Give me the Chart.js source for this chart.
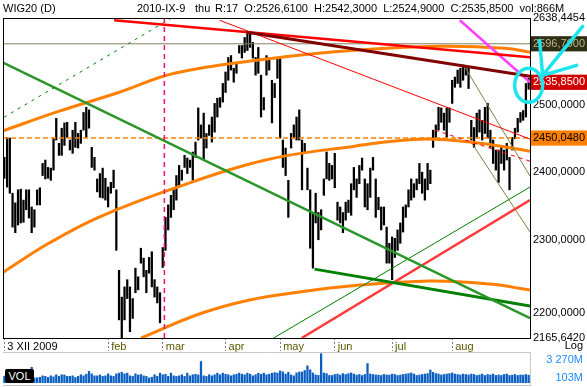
<!DOCTYPE html>
<html>
<head>
<meta charset="utf-8">
<script src="https://cdn.jsdelivr.net/npm/chart.js@4/dist/chart.umd.min.js"></script>
<style>
  body { margin: 0; background: #fff; width: 587px; height: 387px; overflow: hidden; position: relative;
         font-family: "Liberation Sans", Arial, sans-serif; font-size: 11px; color: #000; }
  canvas { position: absolute; left: 0; }
  #main { top: 0; }
  #vol { top: 352px; }
  .t { position: absolute; white-space: pre; line-height: 13px; }
  #volbox { position: absolute; left: 5px; top: 369px; width: 29px; height: 14px; background: #000; color: #fff;
            border-radius: 2px; text-align: center; line-height: 14px; }
</style>
</head>
<body>
<canvas id="main" width="587" height="352"></canvas>
<canvas id="vol" width="587" height="35"></canvas>
<div class="t" style="left:3px;top:2px">WIG20 (D)</div>
<div class="t" style="left:137px;top:2px">2010-IX-9</div>
<div class="t" style="left:195px;top:2px">thu</div>
<div class="t" style="left:215px;top:2px">R:17  O:2526,6100  H:2542,3000  L:2524,9000  C:2535,8500  vol:866M</div>
<div class="t" style="right:4px;top:339px">Log</div>
<div id="volbox">VOL</div>
<script>
// month ticks (index of first session of the month) and their labels
const monthTicks = [0, 38, 58, 81, 101, 121, 142, 164];
const monthLabels = ['3 XII 2009', 'feb', 'mar', 'apr', 'may', 'jun', 'jul', 'aug'];
const priceTicks = [2638.4454, 2596.79, 2535.85, 2500, 2450.048, 2400, 2300, 2200, 2165.642];
const volTickLabels = ['3 270M', '103M'];

// daily high / low, 3 XII 2009 .. 9 IX 2010
const priceHigh = [
  2421, 2451, 2450, 2368, 2354, 2373, 2374, 2358, 2373, 2373,
  2348, 2344, 2373, 2376, 2412, 2417, 2406, 2405, 2450, 2480,
  2442, 2465, 2473, 2474, 2447, 2462, 2474, 2457, 2462, 2489,
  2497, 2493, 2436, 2421, 2389, 2397, 2405, 2390, 2377, 2384,
  2402, 2373, 2258, 2221, 2235, 2245, 2235, 2219, 2261, 2249,
  2289, 2275, 2258, 2276, 2284, 2245, 2235, 2227, 2290, 2333,
  2351, 2365, 2373, 2394, 2409, 2402, 2424, 2420, 2417, 2429,
  2444, 2496, 2470, 2488, 2457, 2470, 2482, 2503, 2511, 2512,
  2534, 2552, 2575, 2578, 2558, 2566, 2594, 2594, 2607, 2613,
  2615, 2599, 2575, 2591, 2547, 2512, 2578, 2574, 2539, 2534,
  2574, 2574, 2447, 2435, 2387, 2457, 2470, 2482, 2493, 2447,
  2442, 2405, 2373, 2339, 2368, 2340, 2344, 2389, 2429, 2412,
  2409, 2427, 2355, 2348, 2340, 2355, 2358, 2382, 2406, 2389,
  2409, 2420, 2389, 2382, 2405, 2421, 2389, 2362, 2348, 2348,
  2319, 2296, 2305, 2303, 2315, 2325, 2348, 2351, 2373, 2389,
  2382, 2389, 2412, 2399, 2389, 2412, 2402, 2462, 2470, 2497,
  2496, 2488, 2496, 2496, 2539, 2544, 2555, 2558, 2563, 2560,
  2558, 2477, 2466, 2488, 2493, 2477, 2497, 2503, 2462, 2447,
  2432, 2432, 2436, 2432, 2442, 2421, 2451, 2465, 2480, 2489,
  2492, 2534, 2542.3
];
const priceLow = [
  2390, 2377, 2368, 2319, 2311, 2322, 2325, 2326, 2344, 2332,
  2311, 2319, 2351, 2351, 2394, 2389, 2390, 2387, 2402, 2447,
  2424, 2424, 2439, 2451, 2432, 2427, 2436, 2435, 2442, 2462,
  2451, 2465, 2406, 2402, 2370, 2362, 2361, 2358, 2348, 2368,
  2376, 2286, 2190, 2165.642, 2190, 2219, 2174, 2192, 2227, 2231,
  2268, 2249, 2227, 2254, 2235, 2221, 2213, 2186, 2262, 2286,
  2315, 2333, 2344, 2358, 2380, 2387, 2406, 2397, 2406, 2387,
  2421, 2447, 2450, 2417, 2435, 2454, 2444, 2459, 2482, 2497,
  2505, 2520, 2539, 2555, 2536, 2550, 2582, 2574, 2583, 2586,
  2591, 2574, 2547, 2550, 2482, 2493, 2547, 2555, 2473, 2512,
  2542, 2450, 2406, 2394, 2333, 2435, 2450, 2447, 2447, 2373,
  2427, 2373, 2289, 2261, 2325, 2301, 2315, 2365, 2389, 2387,
  2389, 2376, 2329, 2325, 2311, 2329, 2340, 2336, 2373, 2362,
  2382, 2402, 2348, 2344, 2362, 2402, 2333, 2344, 2315, 2322,
  2268, 2268, 2245, 2276, 2286, 2296, 2312, 2333, 2348, 2358,
  2362, 2373, 2382, 2368, 2358, 2373, 2382, 2436, 2450, 2462,
  2474, 2462, 2451, 2474, 2503, 2528, 2534, 2528, 2539, 2547,
  2526, 2447, 2436, 2451, 2459, 2447, 2457, 2450, 2436, 2412,
  2402, 2384, 2412, 2402, 2417, 2373, 2432, 2449, 2459, 2474,
  2477, 2482, 2524.9
];
// volume, millions
const volume = [
  760, 700, 850, 800, 650, 750, 700, 650, 600, 680,
  1750, 560, 580, 640, 800, 740, 620, 800, 690, 920,
  740, 920, 900, 740, 740, 800, 620, 740, 920, 800,
  980, 1300, 1020, 800, 800, 900, 740, 800, 1020, 800,
  740, 1020, 1100, 1200, 1020, 1100, 800, 740, 1020, 900,
  950, 800, 740, 560, 640, 920, 740, 1100, 920, 980,
  740, 1100, 800, 740, 800, 920, 740, 1100, 800, 920,
  980, 900, 2400, 800, 740, 920, 800, 920, 1100, 920,
  1100, 980, 920, 800, 920, 980, 1100, 980, 920, 1100,
  980, 800, 920, 1100, 980, 1100, 920, 980, 1100, 1160,
  1100, 1350, 1250, 1000, 1200, 900, 800, 1120, 1230, 1230,
  1400, 1920, 1470, 1120, 900, 850, 3270, 1120, 1050, 840,
  840, 950, 1000, 880, 1050, 950, 1050, 1120, 1000, 880,
  950, 840, 950, 2170, 1000, 950, 900, 880, 840, 950,
  900, 880, 1000, 950, 840, 880, 950, 1000, 1050, 1120,
  1000, 840, 900, 950, 1000, 1050, 1450, 1200, 1050, 1000,
  900, 950, 1000, 1050, 1120, 1000, 950, 900, 1000, 950,
  900, 1000, 950, 840, 900, 1000, 840, 950, 900, 1000,
  840, 900, 840, 950, 1000, 840, 880, 950, 840, 900,
  880, 950, 866
];

// drawn studies: [session index, price]
const redTopLine   = [[40.2, 2634.8], [192.5, 2575.3]];
const maroonLine   = [[88.7, 2615.4], [192.5, 2545.3]];
const redThinLine  = [[78.8, 2634.8], [192.5, 2448.4]];
const redDashLine  = [[157.7, 2462.0], [192.5, 2415.3]];
const magentaLine  = [[166.8, 2634.8], [192.5, 2535.9]];
const pinkVLine    = [[58.6, 2165.642], [58.6, 2638.4454]];
const greenDashLine = [[-0.13, 2481.7], [61.1, 2638.0]];
const greenFallLine = [[-0.87, 2567.4], [192.5, 2192.5]];
const greenFlatLine = [[113.6, 2259.7], [192.5, 2208.8]];
const greenRiseLine = [[98.6, 2165.642], [192.5, 2377.0]];
const redRiseLine   = [[108.9, 2165.642], [192.5, 2358.0]];
const oliveLineA    = [[168.7, 2559.5], [192.5, 2393.1]];
const oliveLineB    = [[171.2, 2442.3], [192.5, 2312.0]];
const oliveLevel    = [[-0.5, 2596.79], [192.5, 2596.79]];
const orangeLevel   = [[-0.5, 2450.048], [192.5, 2450.048]];
const orangeArcTop = [[-0.87, 2460.4], [20.1, 2491], [42.1, 2520.3], [62.3, 2550.0], [95.3, 2572.1],
                      [128.3, 2586.4], [159.5, 2592.8], [183.4, 2589.6], [192.5, 2583.2]];
const orangeArcMid = [[-0.87, 2254.2], [16.4, 2296.3], [34.7, 2333.4], [62.3, 2375.5], [95.3, 2416.8],
                      [128.3, 2437.8], [152.2, 2448.4], [174.2, 2442.3], [192.5, 2430.3]];
const orangeArcLow = [[50.1, 2165.642], [71.4, 2197.9], [89.8, 2217.0], [108.1, 2227.9], [126.5, 2236.2],
                      [155.8, 2243.1], [177.8, 2238.9], [192.5, 2230.7]];
const cyanMark = [192, 2531];

const fnt = { family: 'Liberation Sans', size: 11 };
const tickText = ['#000', '#b8b890', '#fff', '#000', '#000', '#000', '#000', '#000', '#000'];
const tickBack = ['rgba(0,0,0,0)', '#2e2e14', '#d00000', 'rgba(0,0,0,0)', '#ff8000',
                  'rgba(0,0,0,0)', 'rgba(0,0,0,0)', 'rgba(0,0,0,0)', 'rgba(0,0,0,0)'];

function study(points, color, width, dash, tension) {
  return {
    type: 'line',
    data: points.map(p => ({ x: p[0], y: p[1] })),
    borderColor: color,
    borderWidth: width,
    borderDash: dash || [],
    pointRadius: 0,
    tension: tension || 0,
    fill: false,
    order: 1
  };
}

const frame = {
  id: 'frame',
  afterDatasetsDraw(chart) {
    const { ctx, chartArea: a } = chart;
    ctx.save();
    ctx.strokeStyle = '#000';
    ctx.lineWidth = 1;
    ctx.strokeRect(a.left + 0.5, a.top + 0.5, a.right - a.left, a.bottom - a.top);
    // cyan freehand marks round the last session
    const cx = chart.scales.x.getPixelForValue(cyanMark[0]);
    const cy = chart.scales.y.getPixelForValue(cyanMark[1]);
    ctx.strokeStyle = '#1de4ee';
    ctx.lineWidth = 3.5;
    ctx.lineCap = 'round';
    ctx.beginPath();
    ctx.ellipse(cx, cy, 14, 17, 0, 0, Math.PI * 2);
    ctx.stroke();
    ctx.beginPath();
    ctx.moveTo(cx + 54, cy - 59);
    ctx.lineTo(cx + 14, cy - 10);
    ctx.lineTo(cx + 11, cy - 45);
    ctx.moveTo(cx + 14, cy - 10);
    ctx.lineTo(cx + 48, cy - 20);
    ctx.stroke();
    ctx.restore();
  }
};

new Chart(document.getElementById('main'), {
  type: 'bar',
  data: {
    datasets: [
      study(maroonLine, '#800000', 3),
      study(redTopLine, '#ff0000', 2.5),
      study(redThinLine, '#ff0000', 1),
      study(redDashLine, '#ff0000', 1, [4, 4]),
      study(magentaLine, '#ff40ff', 2.5),
      study(pinkVLine, '#ff0a7a', 1.5, [5, 4]),
      study(greenDashLine, '#008000', 1, [3, 5]),
      study(greenFallLine, '#2a962a', 2.5),
      study(greenFlatLine, '#008000', 3),
      study(greenRiseLine, '#008000', 1),
      study(redRiseLine, '#ff3a3a', 2.5),
      study(oliveLineA, '#808040', 1),
      study(oliveLineB, '#808040', 1),
      study(oliveLevel, '#808060', 1),
      study(orangeLevel, '#ff8000', 1.5, [5, 3]),
      study(orangeArcTop, '#ff8000', 3, [], 0.4),
      study(orangeArcMid, '#ff8000', 3, [], 0.4),
      study(orangeArcLow, '#ff8000', 3, [], 0.4),
      {
        type: 'bar',
        data: priceHigh.map((h, i) => ({ x: i, y: [priceLow[i], h] })),
        backgroundColor: '#000',
        barThickness: 1.6,
        grouped: false,
        order: 20
      }
    ]
  },
  options: {
    responsive: false,
    animation: false,
    events: [],
    layout: { padding: { top: 18, left: 3, right: 0, bottom: 0 } },
    plugins: { legend: { display: false }, tooltip: { enabled: false }, title: { display: false } },
    scales: {
      x: {
        type: 'linear', min: -0.5, max: 192.5, offset: false, bounds: 'data',
        afterBuildTicks: s => { s.ticks = monthTicks.map(v => ({ value: v })); },
        afterFit: s => { s.height = 14; },
        grid: { drawOnChartArea: false, drawTicks: true, tickLength: 13, tickColor: '#808080',
                tickBorderDash: [2, 2], offset: false },
        border: { display: false },
        ticks: {
          autoSkip: false, maxRotation: 0, align: 'start', labelOffset: 3, padding: -11, font: fnt,
          color: c => (c.index === 0 ? '#000' : '#5a5a00'),
          callback: (v, i) => monthLabels[i]
        }
      },
      y: {
        type: 'logarithmic', position: 'right', min: 2165.642, max: 2638.4454, bounds: 'data',
        afterBuildTicks: s => { s.ticks = priceTicks.map(v => ({ value: v })); },
        afterFit: s => { s.width = 57; },
        grid: { display: false, drawTicks: false },
        border: { display: false },
        ticks: {
          padding: 3, font: fnt,
          color: c => tickText[c.index] || '#000',
          showLabelBackdrop: true,
          backdropColor: c => tickBack[c.index] || 'rgba(0,0,0,0)',
          backdropPadding: { x: 2, y: 1 },
          callback: v => Number(v).toFixed(4).replace('.', ',')
        }
      }
    }
  },
  plugins: [frame]
});

const volFrame = {
  id: 'volFrame',
  afterDraw(chart) {
    const { ctx, chartArea: a } = chart;
    ctx.save();
    ctx.strokeStyle = '#c8c8c8';
    ctx.lineWidth = 1;
    ctx.beginPath();
    ctx.moveTo(a.left, 0.5);
    ctx.lineTo(a.right + 0.5, 0.5);
    ctx.lineTo(a.right + 0.5, a.bottom + 2.5);
    ctx.lineTo(a.left, a.bottom + 2.5);
    ctx.stroke();
    ctx.fillStyle = '#1e8cff';
    ctx.font = '11px "Liberation Sans"';
    ctx.textAlign = 'right';
    ctx.textBaseline = 'middle';
    ctx.fillText(volTickLabels[0], chart.width - 4, a.top + 7);
    ctx.fillText(volTickLabels[1], chart.width - 4, a.bottom - 5);
    ctx.restore();
  }
};

new Chart(document.getElementById('vol'), {
  type: 'bar',
  data: {
    datasets: [{
      data: volume.map((v, i) => ({ x: i, y: v })),
      backgroundColor: '#0a5fc0',
      barThickness: 1.6
    }]
  },
  options: {
    responsive: false,
    animation: false,
    events: [],
    layout: { padding: { top: 1, left: 3, right: 57, bottom: 4 } },
    plugins: { legend: { display: false }, tooltip: { enabled: false } },
    scales: {
      x: { type: 'linear', min: -0.5, max: 192.5, offset: false, display: false },
      y: { min: 0, max: 3350, display: false }
    }
  },
  plugins: [volFrame]
});
</script>
</body>
</html>
